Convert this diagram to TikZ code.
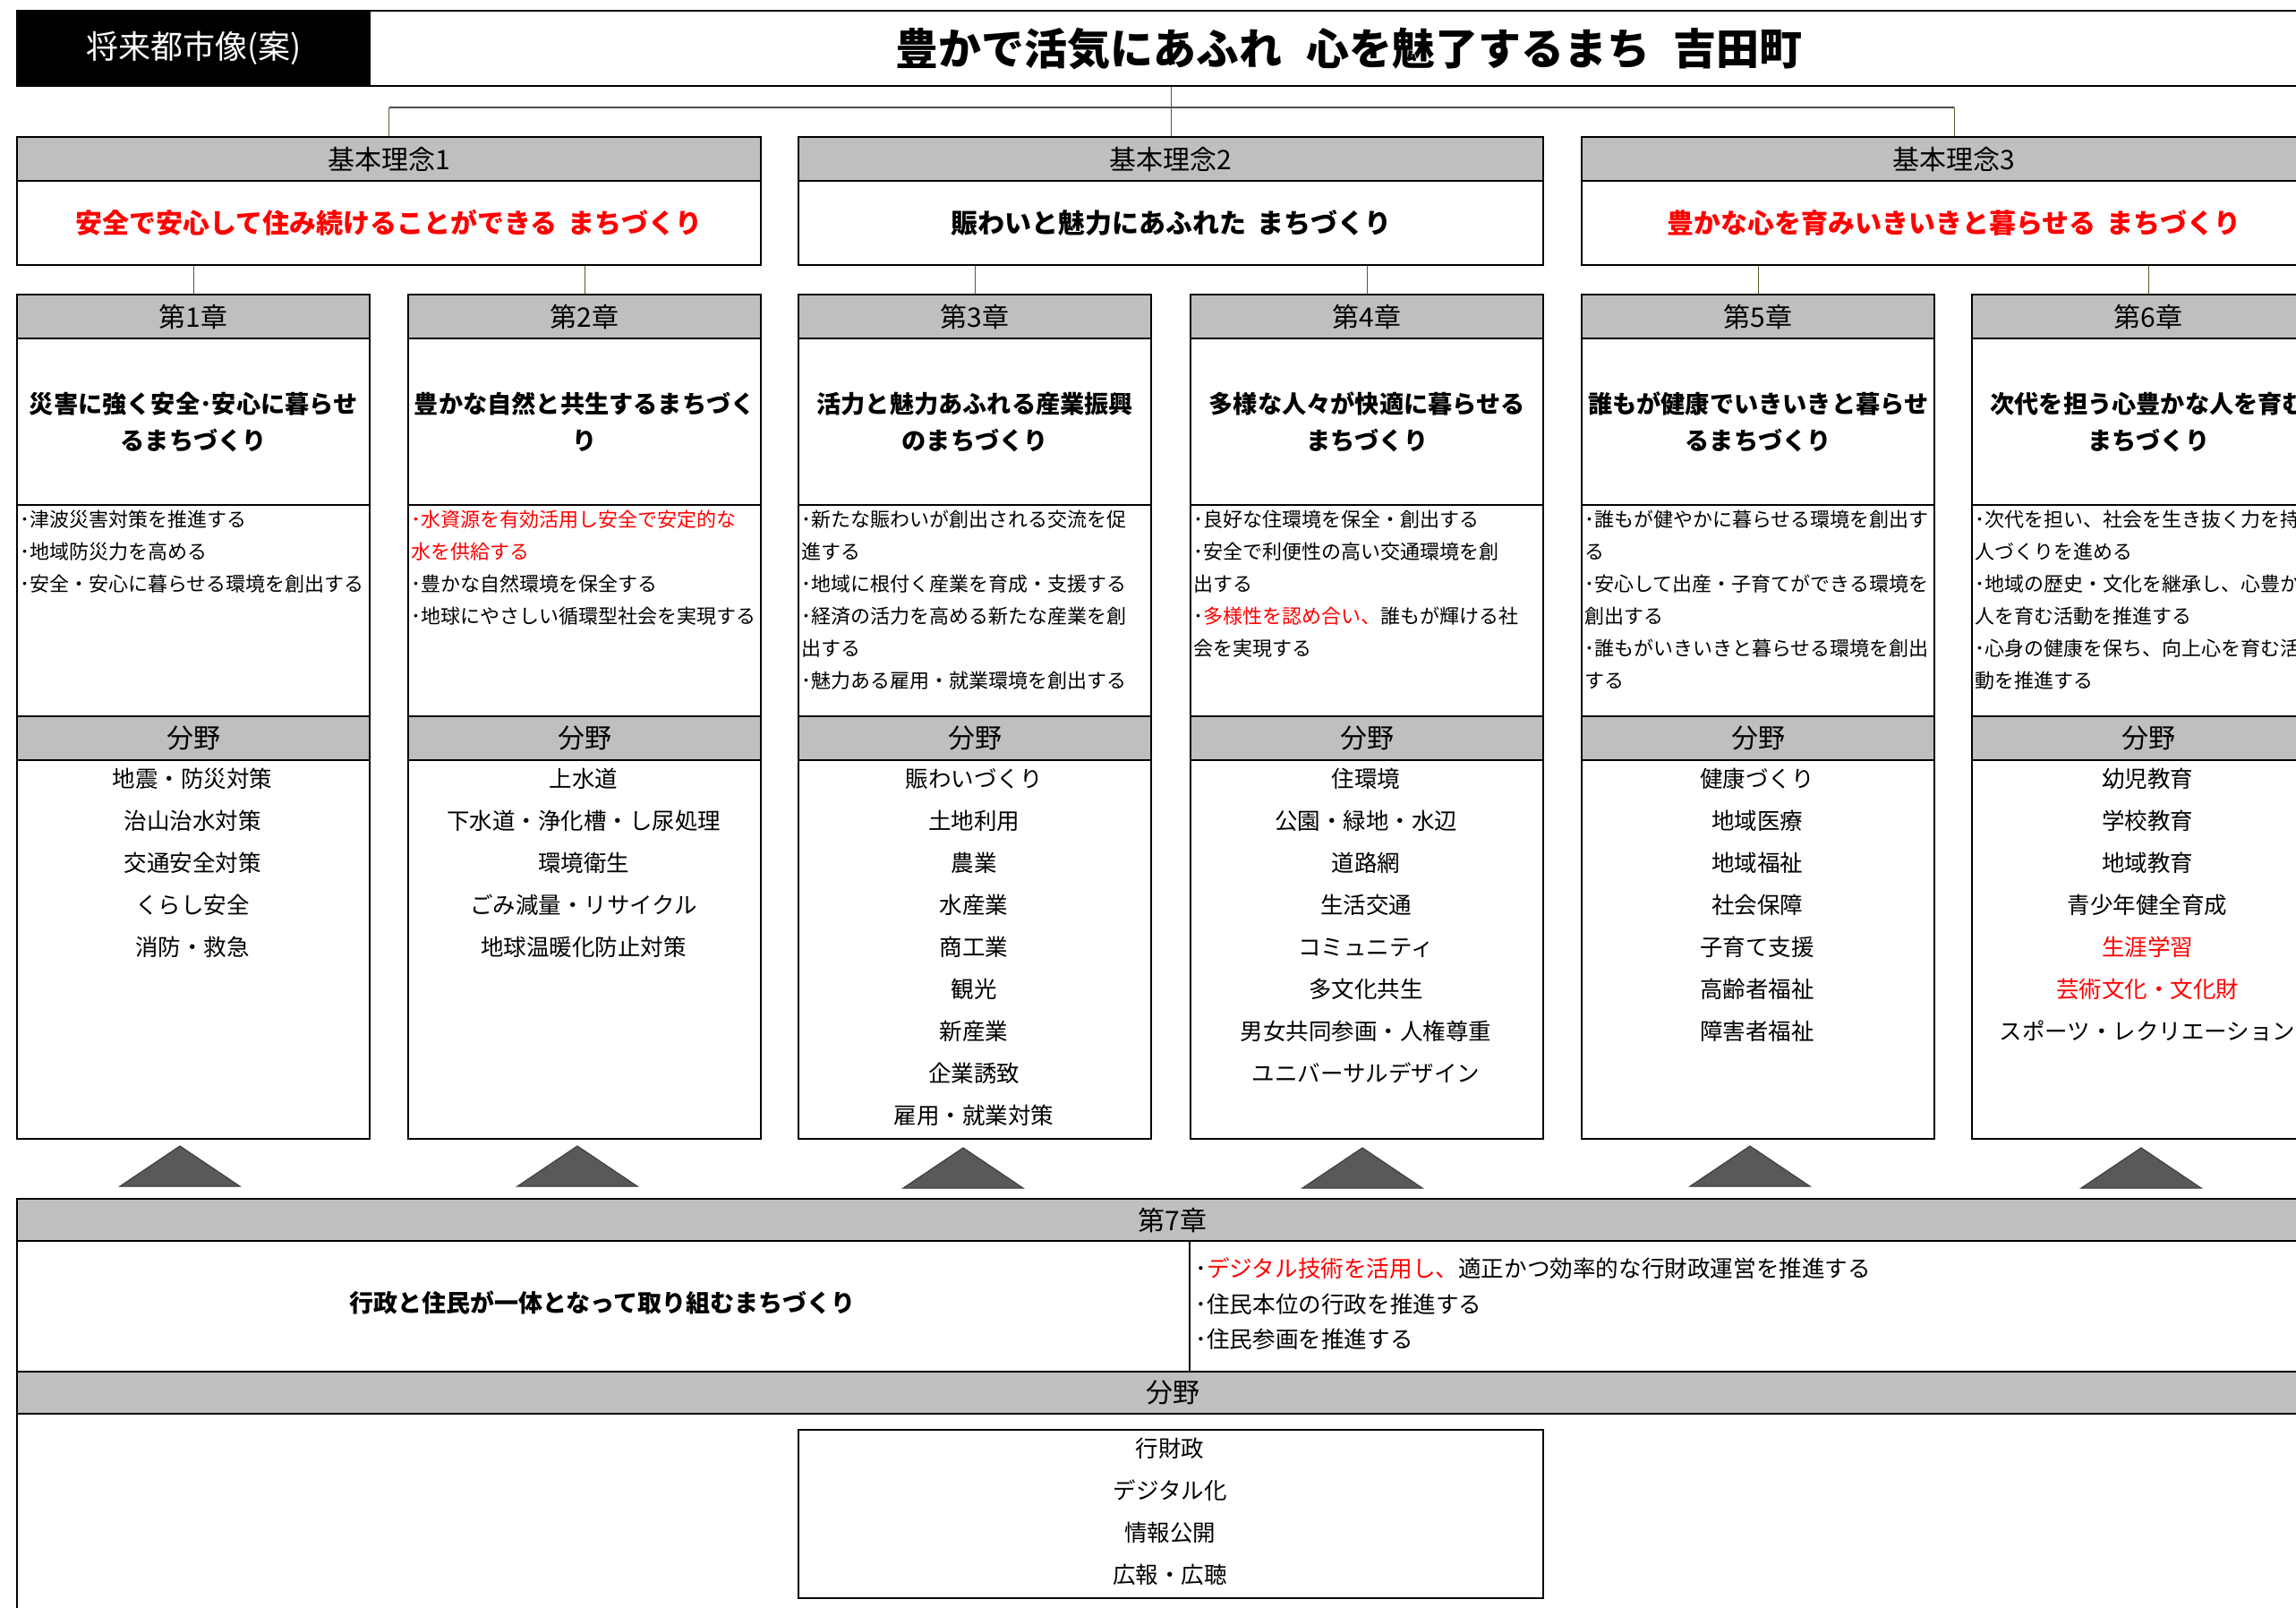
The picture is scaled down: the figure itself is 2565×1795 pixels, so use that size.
\documentclass[tikz,border=0pt]{standalone}
\usepackage{fontspec}
\setmainfont{Noto Sans CJK JP}
\usetikzlibrary{calc}
\definecolor{hdgray}{HTML}{BFBFBF}
\definecolor{conncol}{HTML}{4F6228}
\definecolor{trifill}{HTML}{595959}
\definecolor{jred}{HTML}{FF0000}
\newcommand\chapcol[6]{%
  \node[hd] (#1h) at (#2,328) {#3};
  \node[ttl] (#1t) at (#2,377) {#4};
  \node[bul] (#1b) at (#2,563) {};
  \node[hd] (#1f) at (#2,799) {分野};
  \node[lst] (#1l) at (#2,848) {};
  \foreach \s [count=\i from 0] in {#5} {\node[btxt] (#1b\i) at (#2+4,581+36*\i) {\s};}
  \foreach \s [count=\i from 0] in {#6} {\node[ltxt] (#1l\i) at (#2+197,872+47*\i) {\s};}
}
\begin{document}
\begin{tikzpicture}[x=0.5pt,y=-0.5pt,
  bx/.style={draw=black, line width=1.2pt, inner sep=0pt, anchor=north west, align=center, minimum width=197pt},
  hd/.style={bx, fill=hdgray, minimum height=24.5pt, font=\fontsize{15}{18}\selectfont},
  ttl/.style={bx, minimum height=93pt, font=\bfseries\fontsize{13.6}{20.5}\selectfont},
  bul/.style={bx, minimum height=118pt},
  lst/.style={bx, minimum height=211.5pt},
  txt/.style={inner sep=0pt, text height=0.88em, text depth=0.12em},
  btxt/.style={txt, anchor=west, font=\fontsize{11}{13}\selectfont},
  ltxt/.style={txt, font=\fontsize{12.75}{14}\selectfont},
  connector/.style={draw=conncol, line width=0.7pt},
  barline/.style={draw=black!70, line width=1pt},
  tri/.style={fill=trifill, draw=black!75, line width=0.6pt},
]
\useasboundingbox (0,0) rectangle (2565,1795);
\clip (0,0) rectangle (2565,1795);

% title row
\node[bx, fill=black, text=white, minimum height=42pt, font=\fontsize{18}{20}\selectfont] (vision) at (18,11) {将来都市像(案)};
\node[bx, minimum width=1094pt, minimum height=42pt, font=\bfseries\fontsize{24}{28}\selectfont] (title) at (412,11) {豊かで活気にあふれ\hspace{0.55em}心を魅了するまち\hspace{0.55em}吉田町};

% basic principles
\node[hd, minimum width=415.5pt] (r1h) at (18,152) {基本理念1};
\node[bx, minimum width=415.5pt, minimum height=47pt, text=jred, font=\bfseries\fontsize{15}{18}\selectfont] (r1b) at (18,201) {安全で安心して住み続けることができる\hspace{0.4em}まちづくり};
\node[hd, minimum width=416pt] (r2h) at (891,152) {基本理念2};
\node[bx, minimum width=416pt, minimum height=47pt, font=\bfseries\fontsize{15}{18}\selectfont] (r2b) at (891,201) {賑わいと魅力にあふれた\hspace{0.4em}まちづくり};
\node[hd, minimum width=416pt] (r3h) at (1766,152) {基本理念3};
\node[bx, minimum width=416pt, minimum height=47pt, text=jred, font=\bfseries\fontsize{15}{18}\selectfont] (r3b) at (1766,201) {豊かな心を育みいきいきと暮らせる\hspace{0.4em}まちづくり};

% chapters
\chapcol{c1}{18}{第1章}{災害に強く安全･安心に暮らせ\\るまちづくり}
  {{･津波災害対策を推進する},{･地域防災力を高める},{･安全・安心に暮らせる環境を創出する}}
  {{地震・防災対策},{治山治水対策},{交通安全対策},{くらし安全},{消防・救急}}
\chapcol{c2}{455}{第2章}{豊かな自然と共生するまちづく\\り}
  {{\color{jred}･水資源を有効活用し安全で安定的な},{\color{jred}水を供給する},{･豊かな自然環境を保全する},{･地球にやさしい循環型社会を実現する}}
  {{上水道},{下水道・浄化槽・し尿処理},{環境衛生},{ごみ減量・リサイクル},{地球温暖化防止対策}}
\chapcol{c3}{891}{第3章}{活力と魅力あふれる産業振興\\のまちづくり}
  {{･新たな賑わいが創出される交流を促},{進する},{･地域に根付く産業を育成・支援する},{･経済の活力を高める新たな産業を創},{出する},{･魅力ある雇用・就業環境を創出する}}
  {{賑わいづくり},{土地利用},{農業},{水産業},{商工業},{観光},{新産業},{企業誘致},{雇用・就業対策}}
\chapcol{c4}{1329}{第4章}{多様な人々が快適に暮らせる\\まちづくり}
  {{･良好な住環境を保全・創出する},{･安全で利便性の高い交通環境を創},{出する},{･{\color{jred}多様性を認め合い、}誰もが輝ける社},{会を実現する}}
  {{住環境},{公園・緑地・水辺},{道路網},{生活交通},{コミュニティ},{多文化共生},{男女共同参画・人権尊重},{ユニバーサルデザイン}}
\chapcol{c5}{1766}{第5章}{誰もが健康でいきいきと暮らせ\\るまちづくり}
  {{･誰もが健やかに暮らせる環境を創出す},{る},{･安心して出産・子育てができる環境を},{創出する},{･誰もがいきいきと暮らせる環境を創出},{する}}
  {{健康づくり},{地域医療},{地域福祉},{社会保障},{子育て支援},{高齢者福祉},{障害者福祉}}
\chapcol{c6}{2202}{第6章}{次代を担う心豊かな人を育む\\まちづくり}
  {{･次代を担い、社会を生き抜く力を持つ},{人づくりを進める},{･地域の歴史・文化を継承し、心豊かな},{人を育む活動を推進する},{･心身の健康を保ち、向上心を育む活},{動を推進する}}
  {{幼児教育},{学校教育},{地域教育},{青少年健全育成},{\color{jred}生涯学習},{\color{jred}芸術文化・文化財},{スポーツ・レクリエーション}}

% connectors
\coordinate (bar) at (0,120);
\draw[connector] (title.south -| r2h.north) -- (r2h.north);
\draw[barline] (bar -| r1h.north) -- (bar -| r3h.north);
\draw[connector] (bar -| r1h.north) -- (r1h.north);
\draw[connector] (bar -| r3h.north) -- (r3h.north);
\draw[connector] (r1b.south -| c1h.north) -- (c1h.north);
\draw[connector] (r1b.south -| c2h.north) -- (c2h.north);
\draw[connector] (r2b.south -| c3h.north) -- (c3h.north);
\draw[connector] (r2b.south -| c4h.north) -- (c4h.north);
\draw[connector] (r3b.south -| c5h.north) -- (c5h.north);
\draw[connector] (r3b.south -| c6h.north) -- (c6h.north);

% triangles
\foreach \ax/\ty in {201/1280, 645/1280, 1076/1282, 1522/1282, 1955/1280, 2392/1282}
  \filldraw[tri] (\ax-67,\ty+45) -- (\ax,\ty) -- (\ax+67,\ty+45) -- cycle;

% chapter 7
\node[hd, minimum width=1291pt, minimum height=23.5pt] (c7h) at (18,1338) {第7章};
\node[bx, minimum width=1291pt, minimum height=73pt] (c7t) at (18,1385) {};
\node[txt, font=\bfseries\fontsize{13.5}{16}\selectfont] (c7m) at (673,1458) {行政と住民が一体となって取り組むまちづくり};
\coordinate (div) at (1329,0);
\draw[line width=0.6pt] (c7t.north -| div) -- (c7t.south -| div);
\foreach \s [count=\i from 0] in {{･{\color{jred}デジタル技術を活用し、}適正かつ効率的な行財政運営を推進する},{･住民本位の行政を推進する},{･住民参画を推進する}}
  {\node[txt, anchor=west, font=\fontsize{12.8}{15}\selectfont] (c7b\i) at (1335,1419+39.5*\i) {\s};}
\node[hd, minimum width=1291pt, minimum height=23.5pt] (c7f) at (18,1531) {分野};
\node[bx, minimum width=1291pt, minimum height=120pt] (c7l) at (18,1578) {};
\node[bx, minimum width=416pt, minimum height=94pt] (c7box) at (891,1596) {};
\foreach \s [count=\i from 0] in {{行財政},{デジタル化},{情報公開},{広報・広聴}}
  {\node[ltxt] (c7l\i) at (1307,1620+47*\i) {\s};}
\end{tikzpicture}
\end{document}
